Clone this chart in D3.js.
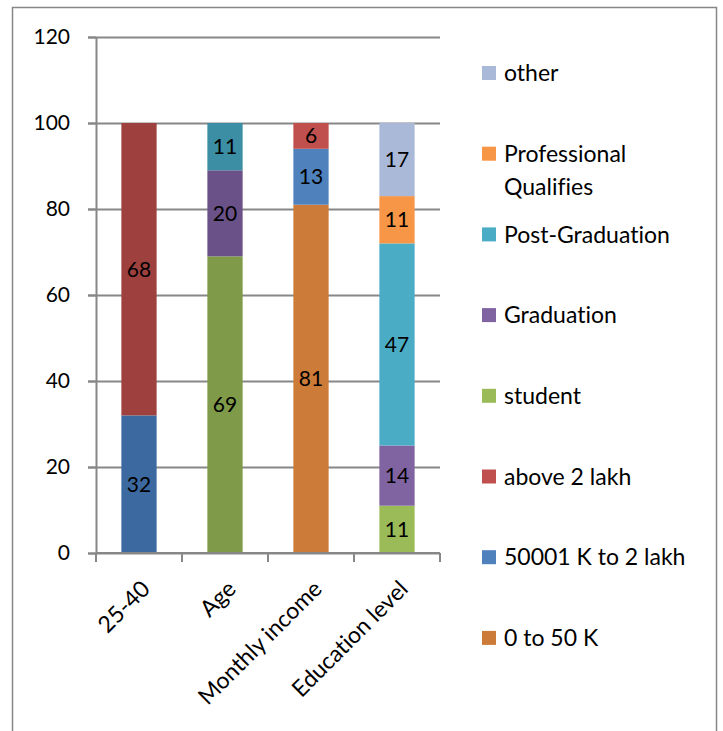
<!DOCTYPE html>
<html>
<head>
<meta charset="utf-8">
<script src="https://cdn.jsdelivr.net/npm/d3@7"></script>
<style>
  body { margin: 0; background: #fff; }
  text { font-family: Lato, "Noto Sans", sans-serif; fill: #000;
         font-variant-ligatures: none; font-feature-settings: "liga" 0; }
  .grid line { stroke: #878787; stroke-width: 2; }
  .grid path { display: none; }
  .axis path, .axis line { stroke: #878787; stroke-width: 2; }
</style>
</head>
<body>
<div class="container"></div>
<script>
// categories on the x axis
const categories = ["25-40", "Age", "Monthly income", "Education level"];

// series in stacking order (bottom to top); null name = not in legend
const seriesNames = [
  null, null, null, null, null,
  "0 to 50 K", "50001 K to 2 lakh", "above 2 lakh",
  "student", "Graduation", "Post-Graduation", "Professional Qualifies", "other"
];

const seriesColors = [
  "#3c6aa0", "#9e413e", "#7f9a48", "#6a5187", "#3c8ea4",
  "#cc7b38", "#4f81bd", "#c0504d",
  "#9bbb59", "#8064a2", "#4bacc6", "#f79646", "#aab9d8"
];

// values per category: [25-40, Age, Monthly income, Education level]
const seriesValues = [
  [32, 0, 0, 0],
  [68, 0, 0, 0],
  [0, 69, 0, 0],
  [0, 20, 0, 0],
  [0, 11, 0, 0],
  [0, 0, 81, 0],
  [0, 0, 13, 0],
  [0, 0, 6, 0],
  [0, 0, 0, 11],
  [0, 0, 0, 14],
  [0, 0, 0, 47],
  [0, 0, 0, 11],
  [0, 0, 0, 17]
];

const yTicks = [0, 20, 40, 60, 80, 100, 120];

const width = 723, height = 731;
const plot = { left: 96, right: 440, top: 37, bottom: 553 };
const numSize = 21;
const textSize = 23;

const svg = d3.select(".container")
  .append("svg")
  .attr("width", width)
  .attr("height", height);

// chart area border
svg.append("rect")
  .attr("x", 12.5).attr("y", 7.5)
  .attr("width", 704).attr("height", 740)
  .attr("fill", "none")
  .attr("stroke", "#878787")
  .attr("stroke-width", 1.5);

const xScale = d3.scaleBand()
  .domain(categories)
  .range([plot.left, plot.right])
  .paddingInner(0.59)
  .paddingOuter(0.295);

const yScale = d3.scaleLinear()
  .domain([0, 120])
  .range([plot.bottom, plot.top]);

// table for d3.stack
const table = categories.map((c, i) => {
  let row = { category: c };
  seriesValues.forEach((vals, s) => { row["s" + s] = vals[i]; });
  return row;
});
const keys = seriesValues.map((v, s) => "s" + s);
const stacked = d3.stack().keys(keys)(table);

// gridlines
svg.append("g")
   .attr("class", "grid")
   .attr("transform", `translate(${plot.left - 8},0)`)
   .call(d3.axisRight(yScale)
           .tickValues(yTicks)
           .tickSize(plot.right - plot.left + 8)
           .tickFormat(""));

// bars
const layers = svg.append("g")
  .selectAll("g")
  .data(stacked)
  .join("g")
  .attr("fill", (d, i) => seriesColors[i]);

layers.selectAll("rect")
  .data(d => d.filter(p => p[1] - p[0] > 0))
  .join("rect")
  .attr("x", p => xScale(p.data.category))
  .attr("width", xScale.bandwidth())
  .attr("y", p => yScale(p[1]))
  .attr("height", p => yScale(p[0]) - yScale(p[1]));

// data labels
layers.selectAll("text")
  .data(d => d.filter(p => p[1] - p[0] > 0))
  .join("text")
  .attr("x", p => xScale(p.data.category) + xScale.bandwidth() / 2)
  .attr("y", p => yScale((p[0] + p[1]) / 2))
  .attr("dy", "0.36em")
  .attr("text-anchor", "middle")
  .attr("font-size", numSize)
  .text(p => p[1] - p[0]);

// y axis
const yAxis = svg.append("g")
  .attr("class", "axis")
  .attr("transform", `translate(${plot.left},0)`)
  .call(d3.axisLeft(yScale).tickValues(yTicks).tickSize(8).tickSizeOuter(0).tickPadding(18));
yAxis.selectAll("text").attr("font-size", numSize).attr("font-family", null);

// x axis with ticks between categories
const xEdges = d3.range(categories.length + 1)
  .map(i => plot.left + i * (plot.right - plot.left) / categories.length);
const xAxis = svg.append("g").attr("class", "axis");
xAxis.append("line")
  .attr("x1", plot.left).attr("x2", plot.right)
  .attr("y1", plot.bottom).attr("y2", plot.bottom);
xAxis.selectAll(".tick")
  .data(xEdges)
  .join("line")
  .attr("class", "tick")
  .attr("x1", d => d).attr("x2", d => d)
  .attr("y1", plot.bottom).attr("y2", plot.bottom + 9);

svg.append("g")
  .selectAll("text")
  .data(categories)
  .join("text")
  .attr("text-anchor", "end")
  .attr("font-size", textSize)
  .attr("transform", d => {
    let cx = xScale(d) + xScale.bandwidth() / 2 + 1;
    return `translate(${cx},${plot.bottom + 26}) rotate(-45)`;
  })
  .attr("dy", "0.7em")
  .text(d => d);

// legend (reverse order, only named series)
const legendItems = seriesNames
  .map((name, i) => ({ name: name, color: seriesColors[i] }))
  .filter(d => d.name)
  .reverse();

const legend = svg.append("g")
  .selectAll("g")
  .data(legendItems)
  .join("g")
  .attr("transform", (d, i) => `translate(482,${73 + i * 80.7})`);

legend.append("rect")
  .attr("x", 0).attr("y", -7)
  .attr("width", 14).attr("height", 14)
  .attr("fill", d => d.color);

legend.append("text")
  .attr("x", 22)
  .attr("font-size", textSize)
  .each(function(d) {
    let words = d.name === "Professional Qualifies" ? ["Professional", "Qualifies"] : [d.name];
    d3.select(this).selectAll("tspan")
      .data(words)
      .join("tspan")
      .attr("x", 22)
      .attr("dy", (w, j) => j === 0 ? "0.36em" : "1.43em")
      .text(w => w);
  });
</script>
</body>
</html>
